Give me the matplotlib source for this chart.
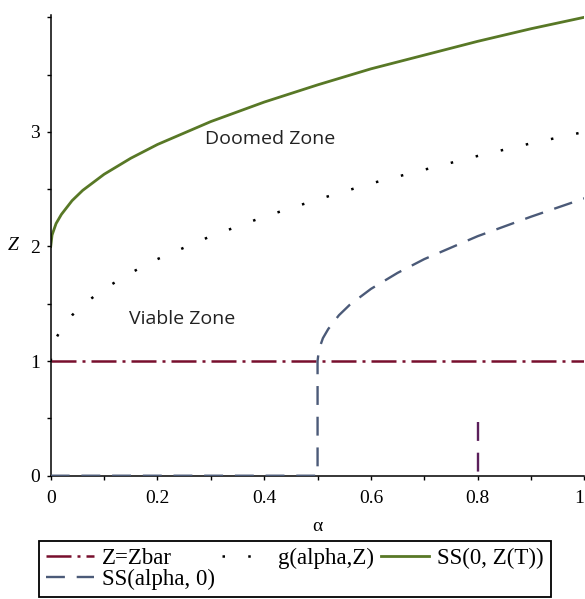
import numpy as np
import matplotlib
matplotlib.use("Agg")
import matplotlib.pyplot as plt
from matplotlib.ticker import MultipleLocator

# Values
# SS(0, Z(T)) - upper boundary (solid green)
alpha_upper = [0.0, 0.0025, 0.01, 0.02, 0.04, 0.06, 0.1, 0.15, 0.2, 0.3, 0.4,
               0.5, 0.6, 0.7, 0.8, 0.9, 1.0]
z_upper = [2.0, 2.1, 2.2, 2.28, 2.4, 2.49, 2.63, 2.77, 2.89, 3.09, 3.26,
           3.41, 3.55, 3.67, 3.79, 3.9, 4.0]

# g(alpha, Z) - middle curve (dotted black)
alpha_g = [0.0, 0.0025, 0.01, 0.02, 0.04, 0.06, 0.1, 0.15, 0.2, 0.3, 0.4,
           0.5, 0.6, 0.7, 0.8, 0.9, 1.0]
z_g = [1.0, 1.1, 1.2, 1.28, 1.4, 1.49, 1.63, 1.77, 1.89, 2.09, 2.26,
       2.41, 2.55, 2.67, 2.79, 2.9, 3.0]

# SS(alpha, 0) - lower boundary (dashed blue)
alpha_lower = [0.0, 0.5, 0.5, 0.5025, 0.51, 0.52, 0.54, 0.56, 0.6, 0.65,
               0.7, 0.8, 0.9, 1.0]
z_lower = [0.0, 0.0, 1.0, 1.1, 1.2, 1.28, 1.4, 1.49, 1.63, 1.77,
           1.89, 2.09, 2.26, 2.42]

# Z = Zbar
zbar = 1.0

# small marker segment at alpha = 0.8
alpha_mark = [0.8, 0.8]
z_mark = [0.47, 0.0]

zone_labels = ["Doomed Zone", "Viable Zone"]
zone_pos = [(0.411, 2.94), (0.246, 1.37)]

x_ticks = [0, 0.2, 0.4, 0.6, 0.8, 1]
x_ticklabels = ["0", "0.2", "0.4", "0.6", "0.8", "1"]
y_ticks = [0, 1, 2, 3]
y_ticklabels = ["0", "1", "2", "3"]

serif = "Liberation Serif"
c_red = "#780f2d"
c_green = "#587826"
c_blue = "#4b5a78"
c_purple = "#5b1f5b"

fig = plt.figure(figsize=(5.85, 5.99), dpi=100)
ax = fig.add_axes([0.0867, 0.2058, 0.9123, 0.7692])

line_bar = ax.axhline(zbar, color=c_red, lw=1.8, dashes=(10, 2.4, 1.2, 2.4),
                      label="Z=Zbar")
line_g, = ax.plot(alpha_g, z_g, color="black", lw=1.8, dashes=(1, 9.3),
                  dash_capstyle="butt", label="g(alpha,Z)")
line_up, = ax.plot(alpha_upper, z_upper, color=c_green, lw=2.0,
                   label="SS(0, Z(T))")
line_low, = ax.plot(alpha_lower, z_lower, color=c_blue, lw=1.7,
                    dashes=(8, 5), label="SS(alpha, 0)", zorder=4)
ax.plot(alpha_mark, z_mark, color=c_purple, lw=1.7, dashes=(8, 5))

for text, (xp, yp) in zip(zone_labels, zone_pos):
    ax.text(xp, yp, text, family="Open Sans", fontsize=14, color="#222222",
            ha="center", va="center")

ax.set_xlim(0, 1)
ax.set_ylim(0, 4.02)

# axes lines only on left and bottom
for side in ["top", "right"]:
    ax.spines[side].set_visible(False)
for side in ["left", "bottom"]:
    ax.spines[side].set_linewidth(1.1)

ax.set_xticks(x_ticks)
ax.set_xticklabels(x_ticklabels, family=serif, fontsize=14)
ax.set_yticks(y_ticks)
ax.set_yticklabels(y_ticklabels, family=serif, fontsize=14)
# last x label sits on the figure edge, keep it inside
ax.get_xticklabels()[-1].set_horizontalalignment("right")
ax.xaxis.set_minor_locator(MultipleLocator(0.1))
ax.yaxis.set_minor_locator(MultipleLocator(0.5))
ax.tick_params(which="both", direction="out", length=3, width=1)
ax.tick_params(axis="x", which="major", pad=7)
ax.tick_params(axis="y", which="major", pad=5)

ax.set_xlabel("\u03b1", family=serif, fontsize=14, labelpad=8)
ax.set_ylabel("Z", family=serif, fontsize=14, style="italic", rotation=0,
              va="center", labelpad=12)

# legend: order chosen so rows read like the reference
leg = fig.legend([line_bar, line_low, line_g, line_up],
                 ["Z=Zbar", "SS(alpha, 0)", "g(alpha,Z)", "SS(0, Z(T))"],
                 loc="lower left", bbox_to_anchor=(0.0667, 0.0033), ncol=3,
                 prop={"family": serif, "size": 16.5}, frameon=True,
                 fancybox=False, edgecolor="black", framealpha=1,
                 borderpad=0.3, labelspacing=0.0, handlelength=2.1,
                 handletextpad=0.35, columnspacing=0.3, borderaxespad=0)
leg.get_frame().set_linewidth(1.3)

fig.savefig("out.png", dpi=100)
